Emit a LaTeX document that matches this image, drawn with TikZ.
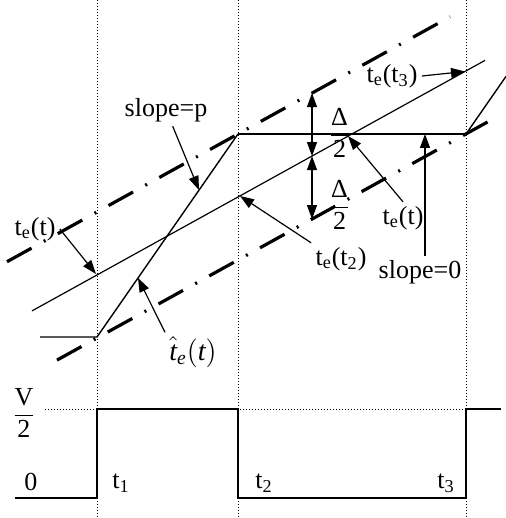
\documentclass[tikz,border=0pt]{standalone}
\usepackage{fontspec}
\setmainfont{Liberation Serif}
\usepackage{amsmath}
\usetikzlibrary{arrows.meta}

\begin{document}
\begin{tikzpicture}[x=0.5pt, y=-0.5pt,
  lbl/.style={font=\fontsize{13}{15}\selectfont, inner sep=2pt},
  arr/.style={-{Triangle[length=7pt,width=5pt]}, line width=0.6pt},
  darr/.style={{Triangle[length=7pt,width=5pt]}-{Triangle[length=7pt,width=5pt]}, line width=0.6pt},
  band/.style={line width=1.6pt, dash pattern=on 14pt off 7pt on 1pt off 7pt},
  guide/.style={line width=0.5pt, dash pattern=on 0.6pt off 0.9pt},
  wave/.style={line width=1pt}
]
\useasboundingbox (0,0) rectangle (506,518);

% time marks
\foreach \x in {97,238,466}
  \draw[guide] (\x,0) -- (\x,518);
\draw[guide] (45,409) -- (500,409);

% error band and t_e(t)
\coordinate (ua) at (7,261.7);   \coordinate (ub) at (450,16.8);
\coordinate (ca) at (32,310.9);  \coordinate (cb) at (485,60.4);
\coordinate (la) at (57,360.1);  \coordinate (lb) at (498,116.2);
\draw[band] (ua) -- (ub);
\draw[band] (la) -- (lb);
\draw[line width=0.6pt] (ca) -- (cb);

% estimate
\coordinate (e0) at (40,337);
\coordinate (e1) at (97,337);
\coordinate (e2) at (238,134);
\coordinate (e3) at (466,134);
\coordinate (e4) at (506,76.4);
\draw[line width=0.7pt] (e0) -- (e1) -- (e2);
\draw[line width=1pt] (e2) -- (e3);
\draw[line width=0.7pt] (e3) -- (e4);

% square wave
\draw[wave] (15,498) -- (97,498) -- (97,409) -- (238,409) -- (238,498)
  -- (466,498) -- (466,409) -- (501,409);

% labels
\node[lbl] (slp) at (166,110) {slope=p};
\node[lbl] (tel) at (35,229)  {t\textsubscript{e}(t)};
\node[lbl, font=\fontsize{14}{16}\selectfont] (teh) at (193,352)
  {$\hat{\textit{t}}_{\textit{e}}(\textit{t})$};
\node[lbl] (te2) at (341,259) {t\textsubscript{e}(t\textsubscript{2})};
\node[lbl] (ter) at (403,218) {t\textsubscript{e}(t)};
\node[lbl] (te3) at (392,76)  {t\textsubscript{e}(t\textsubscript{3})};
\node[lbl] (sl0) at (420,272) {slope=0};
\node[lbl] (dup) at (339.5,133) {$\dfrac{\textrm{Δ}}{\textrm{2}}$};
\node[lbl] (ddn) at (339.5,205) {$\dfrac{\textrm{Δ}}{\textrm{2}}$};
\node[lbl] (vh)  at (24,413)  {$\dfrac{\textrm{V}}{\textrm{2}}$};
\node[lbl] (zero) at (31,482) {0};
\node[lbl] (t1) at (121,483) {t\textsubscript{1}};
\node[lbl] (t2) at (264,483) {t\textsubscript{2}};
\node[lbl] (t3) at (446,483) {t\textsubscript{3}};

% pointers
\coordinate (pslp) at (199,190);
\coordinate (ptel) at (96,274);
\coordinate (pteh) at (138,278);
\coordinate (pte2) at (240,196);
\coordinate (pter) at (348,136);
\coordinate (pte3) at (465,71.5);
\coordinate (pzero) at (425,134);
\draw[arr] (slp) -- (pslp);
\draw[arr] (tel.east) -- (ptel);
\draw[arr] (teh.north west) -- (pteh);
\draw[arr] (te2.north west) -- (pte2);
\draw[arr] (ter.north) -- (pter);
\draw[arr] (te3.east) -- (pte3);
\draw[arr] (sl0.north -| pzero) -- (pzero);

% Delta/2 arrows
\coordinate (du) at (312,93.1);
\coordinate (dc) at (312,156.1);
\coordinate (dl) at (312,219.1);
\draw[darr] (du) -- (dc);
\draw[darr] (dc) -- (dl);
\end{tikzpicture}
\end{document}
